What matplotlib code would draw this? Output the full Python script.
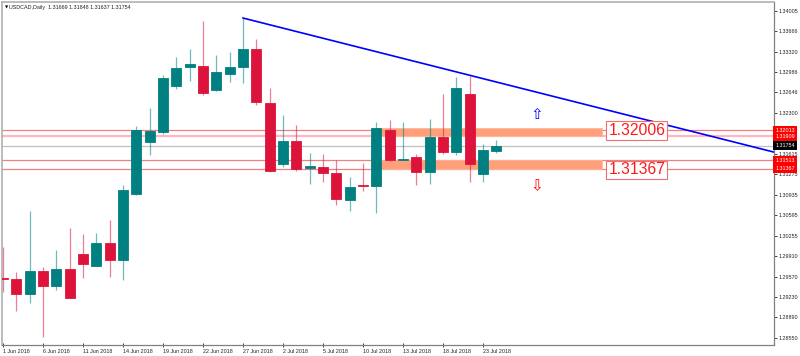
import matplotlib
matplotlib.use('Agg')
import matplotlib.pyplot as plt
from matplotlib.patches import Rectangle

plt.rcParams['font.family'] = ['Liberation Sans', 'DejaVu Sans']

# daily USDCAD bars, 1 Jun - 24 Jul 2018
dates = ['1 Jun', '4 Jun', '5 Jun', '6 Jun', '7 Jun', '8 Jun',
         '11 Jun', '12 Jun', '13 Jun', '14 Jun', '15 Jun',
         '18 Jun', '19 Jun', '20 Jun', '21 Jun', '22 Jun',
         '25 Jun', '26 Jun', '27 Jun', '28 Jun', '29 Jun',
         '2 Jul', '3 Jul', '4 Jul', '5 Jul', '6 Jul',
         '9 Jul', '10 Jul', '11 Jul', '12 Jul', '13 Jul',
         '16 Jul', '17 Jul', '18 Jul', '19 Jul', '20 Jul',
         '23 Jul', '24 Jul']
opens = [1.29538, 1.29521, 1.29275, 1.29655, 1.29409, 1.29689,
         1.29951, 1.29751, 1.30124, 1.29851, 1.30955,
         1.31822, 1.31986, 1.32755, 1.33063, 1.33090,
         1.32683, 1.32951, 1.33073, 1.33369, 1.32466,
         1.31450, 1.31842, 1.31383, 1.31400, 1.31300,
         1.30855, 1.31106, 1.31089, 1.32014, 1.31524,
         1.31571, 1.31316, 1.31897, 1.31658, 1.32616,
         1.31278, 1.31669]
highs = [1.30062, 1.29644, 1.30659, 1.29727, 1.30007, 1.30386,
         1.30274, 1.30303, 1.30508, 1.31094, 1.32081,
         1.32377, 1.32934, 1.33230, 1.33369, 1.33838,
         1.33269, 1.33314, 1.33888, 1.33537, 1.32712,
         1.32265, 1.32098, 1.31634, 1.31613, 1.31512,
         1.31233, 1.31467, 1.32153, 1.32181, 1.32148,
         1.31624, 1.32193, 1.32611, 1.32906, 1.32918,
         1.31792, 1.31848]
lows = [1.29309, 1.28986, 1.29132, 1.28556, 1.29349, 1.29205,
        1.29550, 1.29745, 1.29555, 1.29516, 1.30938,
        1.31601, 1.31959, 1.32700, 1.32839, 1.32600,
        1.32667, 1.32812, 1.32795, 1.32432, 1.31320,
        1.31400, 1.31328, 1.31122, 1.31149, 1.30759,
        1.30664, 1.30999, 1.30631, 1.31500, 1.31512,
        1.31094, 1.31111, 1.31613, 1.31608, 1.31149,
        1.31149, 1.31637]
closes = [1.29521, 1.29282, 1.29655, 1.29409, 1.29689, 1.29215,
          1.29784, 1.30124, 1.29848, 1.31022, 1.32014,
          1.32006, 1.32879, 1.33056, 1.33118, 1.32628,
          1.32979, 1.33073, 1.33369, 1.32488, 1.31340,
          1.31842, 1.31367, 1.31412, 1.31306, 1.30871,
          1.31061, 1.31077, 1.32043, 1.31512, 1.31537,
          1.31316, 1.31897, 1.31658, 1.32712, 1.31457,
          1.31691, 1.31754]

date_labels = ['1 Jun', '6 Jun', '11 Jun', '14 Jun', '19 Jun', '22 Jun', '27 Jun',
               '2 Jul', '5 Jul', '10 Jul', '13 Jul', '18 Jul', '23 Jul']
price_ticks = [1.34005, 1.33666, 1.33320, 1.32986, 1.32646, 1.32300, 1.31615,
               1.31275, 1.30935, 1.30595, 1.30255, 1.29910, 1.29570, 1.29230,
               1.28890, 1.28550]

levels = [1.32013, 1.31909, 1.31513, 1.31367]
bid = closes[-1]
zones = [(1.31914, 1.32043), (1.31373, 1.31524)]
zone_span = (28, 44.9)           # bar index, starts at 11 Jul
box_values = ['1.32006', '1.31367']
box_prices = [1.32013, 1.31350]
trend_pts = [(18, 1.33888), (35, 1.32932)]   # 27 Jun high -> 20 Jul
arrow_bar = 40
arrow_up = 1.32282
arrow_dn = 1.31094

bull = '#008080'
bear = '#dc143c'

fig = plt.figure(figsize=(8, 3.56), dpi=100)
ax = fig.add_axes([2 / 800, 11.5 / 356, 772 / 800, 342.5 / 356])
ax.set_xlim(-0.08, 57.83)
ax.set_ylim(1.28434, 1.34156)

# horizontal levels and bid line
lvl_colors = ['#f08080', '#ffb6c1', '#f08080', '#f08080']
lvl_widths = [0.9, 1.6, 0.9, 0.9]
for v, c, w in zip(levels, lvl_colors, lvl_widths):
    ax.axhline(v, color=c, lw=w, zorder=1)
ax.axhline(bid, color='#c0c0c0', lw=0.9, zorder=1)

# zones
for lo, hi in zones:
    ax.add_patch(Rectangle((zone_span[0], lo), zone_span[1] - zone_span[0], hi - lo,
                           facecolor='#ffa07a', edgecolor='#ffb899', lw=0.6, zorder=1.5))

# candles
x = list(range(len(dates)))
for i in x:
    o, h, l, c = opens[i], highs[i], lows[i], closes[i]
    col = bull if c >= o else bear
    ax.vlines(i, l, h, color=col, lw=0.9, alpha=0.55, zorder=2)
    ax.bar(i, abs(c - o), bottom=min(o, c), width=0.75, color=col,
           edgecolor=col, lw=0.6, zorder=3)

# trend line (ray)
(x0, y0), (x1, y1) = trend_pts
slope = (y1 - y0) / (x1 - x0)
xe = 60
ax.plot([x0, xe], [y0, y0 + slope * (xe - x0)], color='#0000ff', lw=1.2, zorder=4)

# level boxes
for s, p in zip(box_values, box_prices):
    ax.text(45.4, p, s, ha='left', va='center', color='#ff1a1a', fontsize=11.3, zorder=6,
            bbox=dict(boxstyle='square,pad=0.12', fc='white', ec='#f07070', lw=0.8))

# arrows
ax.text(arrow_bar, arrow_up, '\u21e7', ha='center', va='center', color='#0000ff',
        fontsize=11, family='DejaVu Sans', zorder=5)
ax.text(arrow_bar, arrow_dn, '\u21e9', ha='center', va='center', color='#ff0000',
        fontsize=11, family='DejaVu Sans', zorder=5)

# axes styling
ax.yaxis.tick_right()
ax.set_yticks(price_ticks)
ax.set_yticklabels(['%.5f' % v for v in price_ticks])
ax.tick_params(axis='y', direction='out', length=2, width=0.6, pad=1.5,
               labelsize=3.9, colors='#222222')
ax.set_xticks([dates.index(d) for d in date_labels])
ax.set_xticklabels([d + ' 2018' for d in date_labels])
ax.tick_params(axis='x', direction='inout', length=3, width=0.6, pad=1.5,
               labelsize=3.9, colors='#222222')
for lab in ax.get_xticklabels():
    lab.set_ha('left')
for side in ['right', 'bottom']:
    ax.spines[side].set_color('#808080')
    ax.spines[side].set_linewidth(0.9)
for side in ['left', 'top']:
    ax.spines[side].set_color('#b0b0b0')
    ax.spines[side].set_linewidth(1.2)

# price tags on the right axis
tag_vals = levels + [bid]
tag_cols = ['#ff0000', '#ff0000', '#ff0000', '#ff0000', '#000000']
for v, c in zip(tag_vals, tag_cols):
    ax.text(1.0018, v, '%.5f' % v, transform=ax.get_yaxis_transform(), ha='left',
            va='center', color='white', fontsize=3.9, zorder=7, clip_on=False,
            bbox=dict(boxstyle='square,pad=0.35', fc=c, ec='none'))

# header
ax.text(0.004, 0.984, '\u25bc', transform=ax.transAxes, fontsize=3, va='center',
        ha='left', family='DejaVu Sans')
ax.text(0.0095, 0.984, 'USDCAD,Daily  %.5f %.5f %.5f %.5f' % (opens[-1], highs[-1], lows[-1], closes[-1]),
        transform=ax.transAxes, fontsize=3.9, va='center', ha='left', color='#222222')

fig.savefig('out.png', dpi=100, facecolor='white')
